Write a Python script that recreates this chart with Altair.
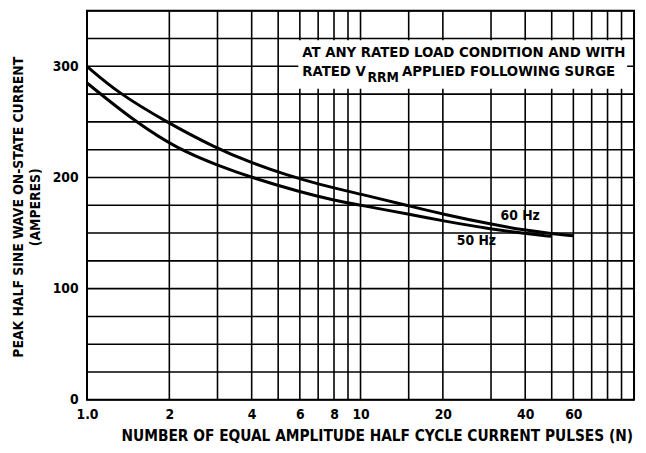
import altair as alt
import pandas as pd

# 60 Hz curve (upper)
n_60 = [1, 1.3, 1.95, 2.93, 4, 5.4, 7, 10, 15, 20, 30, 40, 50, 60]
amps_60 = [300, 276, 250, 227, 213, 202, 194, 185, 174.5, 167, 158, 152.5, 149.5, 147.5]
# 50 Hz curve (lower)
n_50 = [1, 1.5, 2.17, 3, 4.05, 6, 8, 10, 15, 20, 30, 40, 50]
amps_50 = [285, 250, 225, 211, 199.5, 187, 179.5, 175, 167, 161, 153.5, 149.5, 147]

x_grid = [1, 2, 3, 4, 5, 6, 7, 8, 9, 10, 15, 20, 30, 40, 50, 60, 70, 80, 90, 100]
x_labels = [2, 4, 6, 8, 10, 20, 40, 60]
y_grid = [0, 25, 50, 75, 100, 125, 150, 175, 200, 225, 250, 275, 300, 325, 350]
y_labels = [0, 100, 200, 300]

curve_names = ["60 Hz", "50 Hz"]
curve_label_n = [32.5, 22.5]
curve_label_amps = [165.5, 142.5]

x_title = "NUMBER OF EQUAL AMPLITUDE HALF CYCLE CURRENT PULSES (N)"
y_title1 = "PEAK HALF SINE WAVE ON-STATE CURRENT"
y_title2 = "(AMPERES)"
note_line1 = "AT ANY RATED LOAD CONDITION AND WITH"
note_line2a = "RATED V"
note_sub = "RRM"
note_line2b = "APPLIED FOLLOWING SURGE"

FONT = "DejaVu Sans Condensed"

df = pd.concat([
    pd.DataFrame({"n": n_60, "amps": amps_60, "series": "60 Hz"}),
    pd.DataFrame({"n": n_50, "amps": amps_50, "series": "50 Hz"}),
])
lab = pd.DataFrame({"n": curve_label_n, "amps": curve_label_amps, "text": curve_names})

xs = alt.Scale(type="log", domain=[1, 100], nice=False)
ys = alt.Scale(domain=[0, 350], nice=False)

lbl_list = ",".join(str(v) for v in x_labels)
ylbl_list = ",".join(str(v) for v in y_labels)
x_axis = alt.Axis(
    values=x_grid, grid=False, ticks=False, domain=False, labelOverlap=False, labelFlush=False,
    labelExpr=f"datum.value == 1 ? '1.0' : (indexof([{lbl_list}], datum.value) >= 0 ? format(datum.value, 'd') : '')",
    labelFont=FONT, labelFontSize=14, labelFontWeight="bold", labelColor="black", labelPadding=8,
    title=None,
)
y_axis = alt.Axis(
    values=y_grid, grid=False, ticks=False, domain=False, labelOverlap=False, labelFlush=False,
    labelExpr=f"indexof([{ylbl_list}], datum.value) >= 0 ? format(datum.value, 'd') : ''",
    labelFont=FONT, labelFontSize=14, labelFontWeight="bold", labelColor="black", labelPadding=9,
    title=None,
)

xgrid = alt.Chart(pd.DataFrame({"n": x_grid})).mark_rule(color="black", strokeWidth=1.6).encode(
    x=alt.X("n:Q", scale=xs, axis=x_axis)
)
ygrid = alt.Chart(pd.DataFrame({"amps": y_grid})).mark_rule(color="black", strokeWidth=1.6).encode(
    y=alt.Y("amps:Q", scale=ys, axis=y_axis)
)

lines = alt.Chart(df).mark_line(color="black", strokeWidth=3, interpolate="basis").encode(
    x=alt.X("n:Q", scale=xs), y=alt.Y("amps:Q", scale=ys), detail="series:N"
)

labels = alt.Chart(lab).mark_text(
    font=FONT, fontSize=14, fontWeight="bold", color="black", align="left", baseline="middle"
).encode(x=alt.X("n:Q", scale=xs), y=alt.Y("amps:Q", scale=ys), text="text:N")

one = pd.DataFrame({"k": [0]})


def txt(s, x, y, size=15, angle=0, align="left", baseline="alphabetic"):
    return alt.Chart(one).mark_text(
        font=FONT, fontSize=size, fontWeight="bold", color="black", align=align,
        baseline=baseline, angle=angle
    ).encode(x=alt.value(x), y=alt.value(y), text=alt.value(s))


box = alt.Chart(one).mark_rect(fill="white").encode(
    x=alt.value(214), x2=alt.value(547), y=alt.value(30), y2=alt.value(79)
)
t1 = txt(note_line1, 218, 47, 15)
t2 = txt(note_line2a, 218, 66, 15)
t3 = txt(note_sub, 284, 72, 14)
t4 = txt(note_line2b, 319, 66, 15)
xt = txt(x_title, 294, 431, 15.5, align="center", baseline="middle")
yt1 = txt(y_title1, -69, 199, 14, angle=270, align="center", baseline="middle")
yt2 = txt(y_title2, -52, 199, 14, angle=270, align="center", baseline="middle")

chart = alt.layer(xgrid, ygrid, lines, box, t1, t2, t3, t4, labels, xt, yt1, yt2).properties(
    width=554, height=394,
    autosize=alt.AutoSizeParams(type="none"),
    padding={"left": 80, "top": 0, "right": 4, "bottom": 43},
    background="white",
).configure_view(stroke="black", strokeWidth=2)

chart.save("out.html", embed_options={"renderer": "svg", "actions": False})
